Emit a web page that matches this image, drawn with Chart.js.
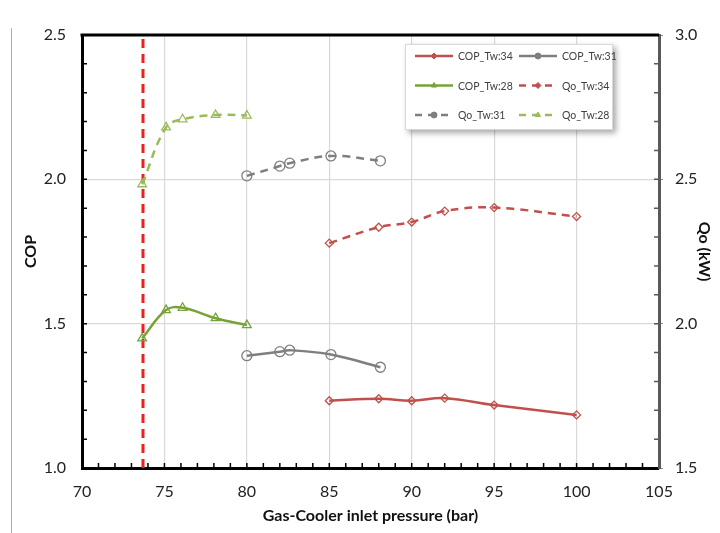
<!DOCTYPE html>
<html>
<head>
<meta charset="utf-8">
<script src="https://cdn.jsdelivr.net/npm/chart.js@4"></script>
<style>
  html, body { margin: 0; padding: 0; background: #fff; }
  #wrap { width: 720px; height: 533px; }
</style>
</head>
<body>
<div id="wrap"><canvas id="myChart" width="720" height="533"></canvas></div>
<script>
  // values
  const pressure34 = [85, 88, 90, 92, 95, 100];
  const cop34 = [1.233, 1.240, 1.233, 1.242, 1.218, 1.184];
  const qo34 = [2.279, 2.334, 2.352, 2.390, 2.402, 2.371];

  const pressure31 = [80, 82, 82.6, 85.1, 88.1];
  const cop31 = [1.389, 1.403, 1.408, 1.393, 1.349];
  const qo31 = [2.512, 2.546, 2.556, 2.581, 2.564];

  const pressure28 = [73.65, 75.1, 76.1, 78.1, 80];
  const cop28 = [1.449, 1.547, 1.555, 1.519, 1.495];
  const qo28 = [2.483, 2.680, 2.708, 2.723, 2.721];

  const criticalPressure = 73.7;
  const copRange = [1.0, 2.5];
  const qoRange = [1.5, 3.0];
  const pressureRange = [70, 105];

  const FONT = 'Lato, "Open Sans", sans-serif';

  function pts(xs, ys) {
    return xs.map((x, i) => ({ x: x, y: ys[i] }));
  }

  function series(label, xs, ys, color, style, radius, dashed, axis) {
    return {
      label: label,
      data: pts(xs, ys),
      yAxisID: axis,
      borderColor: color,
      borderWidth: 2.5,
      borderDash: dashed ? [8, 6] : [],
      pointStyle: style,
      pointRadius: radius,
      pointBorderColor: color,
      pointBackgroundColor: 'rgba(255,255,255,0)',
      pointBorderWidth: 1.3,
      tension: 0.4,
      fill: false
    };
  }

  // inward minor ticks, top frame and the legend box
  const extras = {
    id: 'extras',
    beforeDraw(chart) {
      const c = chart.ctx;
      c.save();
      c.strokeStyle = '#b0b0b0';
      c.lineWidth = 1;
      c.beginPath();
      c.moveTo(11.5, 28);
      c.lineTo(11.5, 533);
      c.stroke();
      c.restore();
    },
    afterDraw(chart) {
      const c = chart.ctx;
      const a = chart.chartArea;
      const x = chart.scales.x, y = chart.scales.y, y2 = chart.scales.y2;
      c.save();
      // top frame
      c.strokeStyle = '#000';
      c.lineWidth = 3;
      c.beginPath();
      c.moveTo(a.left - 1.5, a.top);
      c.lineTo(a.right, a.top);
      c.stroke();
      // minor ticks
      c.lineWidth = 1.5;
      c.beginPath();
      for (let i = 1; i < 15; i++) {
        const py = y.getPixelForValue(copRange[0] + i * 0.1);
        c.moveTo(a.left, py);
        c.lineTo(a.left + 5, py);
      }
      for (let i = 1; i < 35; i++) {
        const px = x.getPixelForValue(pressureRange[0] + i);
        c.moveTo(px, a.bottom);
        c.lineTo(px, a.bottom - 5);
      }
      c.stroke();
      c.strokeStyle = '#595959';
      c.beginPath();
      for (let i = 1; i < 15; i++) {
        const py = y2.getPixelForValue(qoRange[0] + i * 0.1);
        c.moveTo(a.right - 5, py);
        c.lineTo(a.right, py);
      }
      c.stroke();

      // legend box
      const bx = 405, by = 44, bw = 208, bh = 86;
      c.shadowColor = 'rgba(0,0,0,0.35)';
      c.shadowBlur = 6;
      c.shadowOffsetX = 3;
      c.shadowOffsetY = 3;
      c.fillStyle = '#fff';
      c.fillRect(bx, by, bw, bh);
      c.shadowColor = 'transparent';
      c.strokeStyle = '#d9d9d9';
      c.lineWidth = 1;
      c.strokeRect(bx + 0.5, by + 0.5, bw - 1, bh - 1);

      const items = chart.data.datasets.filter(d => d.label);
      c.font = '10.5px ' + FONT;
      c.textBaseline = 'middle';
      c.textAlign = 'left';
      items.forEach((d, i) => {
        const col = i % 2, row = Math.floor(i / 2);
        const lx = bx + 10 + col * 104;
        const ly = by + 12 + row * 29.5;
        c.strokeStyle = d.borderColor;
        c.lineWidth = 2.5;
        c.setLineDash(d.borderDash.length ? [7, 6] : []);
        c.beginPath();
        c.moveTo(lx, ly);
        c.lineTo(lx + 38, ly);
        c.stroke();
        c.setLineDash([]);
        c.fillStyle = d.borderColor;
        c.strokeStyle = d.borderColor;
        c.lineWidth = 1;
        Chart.helpers.drawPoint(c, { pointStyle: d.pointStyle, radius: 3, rotation: 0, borderWidth: 1 }, lx + 19, ly);
        c.fillStyle = '#404040';
        c.fillText(d.label, lx + 43, ly + 1);
      });
      c.restore();
    }
  };

  const ctx = document.getElementById('myChart').getContext('2d');

  const myChart = new Chart(ctx, {
    type: 'line',
    data: {
      datasets: [
        series('COP_Tw:34', pressure34, cop34, '#C0504D', 'rectRot', 4, false, 'y'),
        series('COP_Tw:31', pressure31, cop31, '#7F7F7F', 'circle', 5, false, 'y'),
        series('COP_Tw:28', pressure28, cop28, '#77A23A', 'triangle', 5, false, 'y'),
        series('Qo_Tw:34', pressure34, qo34, '#C0504D', 'rectRot', 4, true, 'y2'),
        series('Qo_Tw:31', pressure31, qo31, '#7F7F7F', 'circle', 5, true, 'y2'),
        series('Qo_Tw:28', pressure28, qo28, '#9BBB59', 'triangle', 5, true, 'y2'),
        {
          label: '',
          data: pts([criticalPressure, criticalPressure], copRange),
          yAxisID: 'y',
          borderColor: '#F21D1D',
          borderWidth: 3,
          borderDash: [9, 6],
          pointRadius: 0,
          tension: 0
        }
      ]
    },
    options: {
      responsive: false,
      animation: false,
      layout: { padding: { top: 35, left: 0, right: 0, bottom: 0 } },
      plugins: {
        legend: { display: false },
        tooltip: { enabled: false }
      },
      scales: {
        x: {
          type: 'linear',
          min: pressureRange[0],
          max: pressureRange[1],
          ticks: { stepSize: 5, color: '#222', font: { family: FONT, size: 16 }, padding: 14 },
          grid: { color: '#d9d9d9', lineWidth: 1.2, drawTicks: false },
          border: { color: '#000', width: 3 },
          title: {
            display: true,
            text: 'Gas-Cooler inlet pressure (bar)',
            color: '#111',
            font: { family: FONT, size: 16, weight: 'bold' },
            padding: { top: 0, bottom: 8 }
          },
          afterFit(s) { s.height = 65; }
        },
        y: {
          position: 'left',
          min: copRange[0],
          max: copRange[1],
          ticks: {
            stepSize: 0.5,
            color: '#222',
            font: { family: FONT, size: 16 },
            padding: 16,
            callback: v => v.toFixed(1)
          },
          grid: { color: '#d9d9d9', lineWidth: 1.2, drawTicks: false },
          border: { color: '#000', width: 3 },
          title: {
            display: true,
            text: 'COP',
            color: '#111',
            font: { family: FONT, size: 16, weight: 'bold' },
            padding: { top: 21, bottom: 0 }
          },
          afterFit(s) { s.width = 82; }
        },
        y2: {
          position: 'right',
          min: qoRange[0],
          max: qoRange[1],
          ticks: {
            stepSize: 0.5,
            color: '#222',
            font: { family: FONT, size: 16 },
            padding: 12,
            callback: v => v.toFixed(1)
          },
          grid: { drawOnChartArea: false, drawTicks: true, tickLength: 4, color: '#8c8c8c' },
          border: { color: '#595959', width: 3 },
          title: {
            display: true,
            text: 'Qo (kW)',
            color: '#111',
            font: { family: FONT, size: 16, weight: 'bold' },
            padding: { top: 6, bottom: 0 }
          },
          afterFit(s) { s.width = 61; }
        }
      }
    },
    plugins: [extras]
  });
</script>
</body>
</html>
